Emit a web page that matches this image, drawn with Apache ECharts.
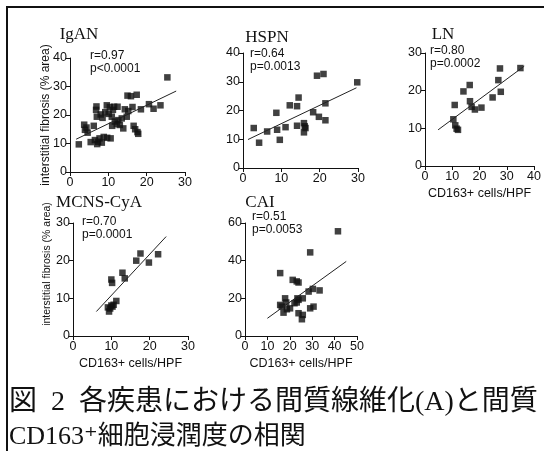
<!DOCTYPE html>
<html><head><meta charset="utf-8">
<script src="https://cdn.jsdelivr.net/npm/echarts@6/dist/echarts.min.js"></script>
<style>html,body{margin:0;padding:0;background:#fff}#c{width:544px;height:451px}</style>
</head><body><div id="c"></div>
<script>
// ---- data ----
const iganX = [2.3,3.7,3.9,4.3,4.6,5.4,6.2,6.5,6.8,6.9,7.0,7.1,7.3,7.7,8.0,8.3,8.5,8.8,9.2,9.6,9.7,10.1,10.4,10.6,10.9,11.2,11.5,11.7,12.2,12.4,12.6,13.0,13.5,13.9,14.3,14.8,15.0,15.2,15.9,16.3,16.6,17.0,17.4,17.6,17.8,18.5,20.6,21.8,23.6,25.4,11.0];
const iganY = [9.7,16.6,14.8,15.6,13.8,10.5,16.2,11.2,21.8,23.0,19.4,9.8,10.6,11.8,20.2,10.3,19.0,12.3,21.0,23.4,12.0,20.4,22.8,11.8,19.4,21.8,22.9,17.7,16.8,22.9,18.2,16.5,18.8,15.3,22.0,19.4,26.8,21.4,26.6,22.8,16.2,15.0,27.1,14.0,13.4,22.0,23.8,22.2,23.4,33.2,16.2];
const iganFitX = [1.6, 27.7], iganFitY = [11.5, 28.4];

const hspnX = [2.8,4.2,6.3,8.7,8.9,9.6,11.1,12.2,14.1,14.5,14.1,15.9,16.1,16.3,15.9,18.3,19.3,21.0,19.8,21.5,21.5,29.8];
const hspnY = [13.9,8.8,12.7,19.2,13.3,9.8,14.2,21.8,21.5,24.5,14.7,15.6,14.5,13.9,12.4,19.4,32.1,32.7,17.8,22.5,16.6,29.8];
const hspnFitX = [1.3, 29.6], hspnFitY = [9.9, 27.9];

const lnX = [10.4,11.1,11.6,12.1,10.9,14.1,16.4,16.5,17.1,18.3,20.7,24.8,26.9,27.5,27.8,35.0];
const lnY = [12.4,10.8,9.9,9.6,16.2,19.8,21.5,17.2,15.7,15.0,15.5,18.2,22.8,25.9,19.7,26.0];
const lnFitX = [4.8, 36.4], lnFitY = [9.6, 26.5];

const mcnsX = [9.1,9.4,9.7,10.0,10.3,10.6,11.3,10.0,10.2,12.9,13.5,16.5,17.6,19.8,22.2];
const mcnsY = [7.6,6.5,7.3,8.1,7.8,8.3,9.3,15.0,14.1,16.8,15.3,20.0,21.9,19.5,21.7];
const mcnsFitX = [6.1, 24.3], mcnsFitY = [6.5, 26.4];

const caiX = [15.7,21.3,23.1,23.9,29.1,41.5,33.3,28.4,30.3,15.7,16.4,17.9,18.4,17.2,18.7,20.1,22.1,23.1,23.4,23.9,25.8,23.9,25.8,25.4,29.1,30.6];
const caiY = [33.4,29.8,29.0,28.4,44.4,55.6,24.2,23.6,25.0,16.5,15.6,20.0,17.8,12.4,14.2,14.7,17.4,17.8,20.0,19.2,20.0,12.1,11.2,8.9,14.7,15.6];
const caiFitX = [10, 45.2], caiFitY = [9.4, 39.6];

const titles = ['IgAN','HSPN','LN','MCNS-CyA','CAI'];
const stats = [['r=0.97','p<0.0001'],['r=0.64','p=0.0013'],['r=0.80','p=0.0002'],['r=0.70','p=0.0001'],['r=0.51','p=0.0053']];
const xMax = [30,30,40,30,50];
const yMax = [40,40,30,30,60];
const yInterval = [10,10,10,10,20];
const xName = 'CD163+ cells/HPF';
const yName = 'interstitial fibrosis (% area)';
const caption1 = '図  2  各疾患における間質線維化(A)と間質';
const caption2 = 'CD163⁺細胞浸潤度の相関';

// ---- layout ----
const grids = [
  {left:70, top:58, width:115, height:114},
  {left:243, top:53, width:115, height:115},
  {left:425, top:53, width:112, height:113},
  {left:73, top:223, width:115, height:113},
  {left:245, top:223, width:112, height:113}
];
const sets = [[iganX,iganY,iganFitX,iganFitY],[hspnX,hspnY,hspnFitX,hspnFitY],[lnX,lnY,lnFitX,lnFitY],[mcnsX,mcnsY,mcnsFitX,mcnsFitY],[caiX,caiY,caiFitX,caiFitY]];
const SANS = '"Liberation Sans", Arial, sans-serif';
const SERIF = '"Liberation Serif", "Times New Roman", serif';
const INK = '#111';

const showXName = [false,false,true,true,true];

const xAxis = grids.map((g,i)=>({
  gridIndex:i, type:'value', min:0, max:xMax[i], interval:10,
  axisLine:{show:true,onZero:false,lineStyle:{color:INK,width:1}},
  axisTick:{show:true,length:4,lineStyle:{color:INK}},
  axisLabel:{color:INK,fontSize:12.5,fontFamily:SANS,margin:4},
  splitLine:{show:false},
  name: showXName[i]? xName : '', nameLocation:'middle', nameGap:21,
  nameTextStyle:{color:INK,fontSize:12.5,fontFamily:SANS}
}));
const yAxis = grids.map((g,i)=>({
  gridIndex:i, type:'value', min:0, max:yMax[i], interval:yInterval[i],
  axisLine:{show:true,onZero:false,lineStyle:{color:INK,width:1}},
  axisTick:{show:true,length:4,lineStyle:{color:INK}},
  axisLabel:{color:INK,fontSize:12.5,fontFamily:SANS,margin:3},
  splitLine:{show:false}
}));

const series = [];
sets.forEach((s,i)=>{
  series.push({type:'scatter', xAxisIndex:i, yAxisIndex:i, symbol:'rect', symbolSize:6.5,
    itemStyle:{color:INK}, data:s[0].map((x,k)=>[x,s[1][k]]), silent:true});
  series.push({type:'line', xAxisIndex:i, yAxisIndex:i, showSymbol:false, symbol:'none',
    lineStyle:{color:'#222',width:1}, data:s[2].map((x,k)=>[x,s[3][k]]), silent:true});
});

const titlePos = [[79,35],[267,38],[443,35],[99,203],[260,203]];
const statPos = [[90,62],[250,60],[430,57],[82,228],[252,223]];
const graphic = [];
titles.forEach((t,i)=>{
  graphic.push({type:'text', x:titlePos[i][0], y:titlePos[i][1],
    style:{text:t, fill:INK, font:'17px '+SERIF, textAlign:'center', textVerticalAlign:'middle'}});
  graphic.push({type:'text', x:statPos[i][0], y:statPos[i][1],
    style:{text:stats[i][0]+'\n'+stats[i][1], fill:INK, font:'12px '+SANS, lineHeight:13.5, textAlign:'left', textVerticalAlign:'middle'}});
});
// y-axis names (rotated)
graphic.push({type:'text', x:46, y:115, rotation:Math.PI/2,
  style:{text:yName, fill:INK, font:'12px '+SANS, textAlign:'center', textVerticalAlign:'middle'}});
graphic.push({type:'text', x:47, y:264, rotation:Math.PI/2,
  style:{text:yName, fill:INK, font:'10.5px '+SANS, textAlign:'center', textVerticalAlign:'middle'}});
// caption
graphic.push({type:'text', x:9, y:403,
  style:{text:caption1, fill:INK, font:'28px "Liberation Serif", "Noto Sans CJK JP", serif', textAlign:'left', textVerticalAlign:'middle'}});
graphic.push({type:'text', x:9, y:437,
  style:{text:caption2, fill:INK, font:'26px "Liberation Serif", "DejaVu Serif", "Noto Sans CJK JP", serif', textAlign:'left', textVerticalAlign:'middle'}});
// frame
graphic.push({type:'polyline', shape:{points:[[7,451],[7,7],[544,7]]}, style:{stroke:INK, lineWidth:2, fill:null}});

const chart = echarts.init(document.getElementById('c'), null, {renderer:'canvas'});
chart.setOption({
  animation:false, backgroundColor:'#fff',
  grid: grids.map(g=>Object.assign({containLabel:false}, g)),
  xAxis, yAxis, series, graphic
});
</script></body></html>
